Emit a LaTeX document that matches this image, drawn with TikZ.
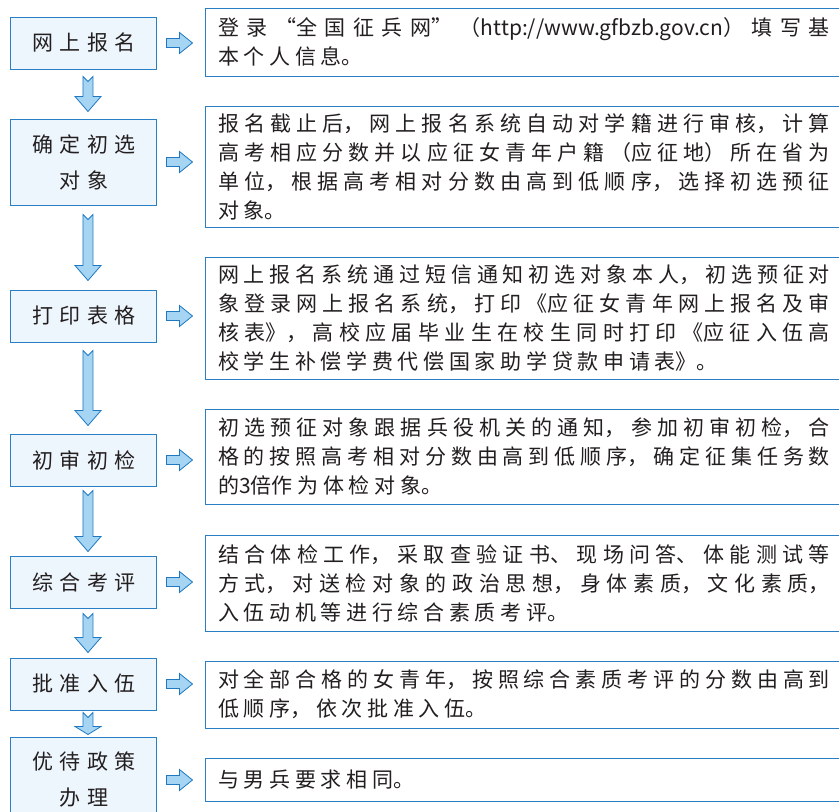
\documentclass[tikz,border=0pt]{standalone}
\usepackage{fontspec}
\setmainfont{Noto Sans CJK SC}
\usepackage{xcolor}
\usepackage{tikz}
\usetikzlibrary{positioning, calc}
\XeTeXlinebreaklocale "zh"
\setlength{\parindent}{0pt}
\definecolor{boxline}{HTML}{2A7FC4}
\definecolor{boxfill}{HTML}{EEF6FD}
\definecolor{arrowfill}{HTML}{A5D5F3}
\definecolor{arrowline}{HTML}{1F78C1}
\definecolor{txt}{HTML}{231F20}
\tikzstyle{stage} = [rectangle, draw=boxline, fill=boxfill, line width=1pt, minimum width=146pt, minimum height=52pt, text width=120pt, align=center, text=txt, font={\fontsize{21pt}{36pt}\selectfont\XeTeXlinebreakskip=6.3pt\relax}]
\tikzstyle{detail} = [rectangle, draw=boxline, fill=white, line width=1pt, inner xsep=13pt, inner ysep=6pt, text width=612pt, align=justify, text=txt, font={\fontsize{21pt}{29pt}\selectfont\XeTeXlinebreakskip=4.7pt plus 3pt\relax}]
\tikzstyle{blockarrow} = [draw=arrowline, fill=arrowfill, line width=0.8pt, line join=miter]
% block arrow from step #1 down to step #2, gap #3, head length #4
\newcommand\arrowdown[4]{%
  \draw [blockarrow] ([xshift=-1pt,yshift=-#3]#1.south) -- ([xshift=4pt,yshift=-#3-5pt]#1.south) -- ([xshift=9pt,yshift=-#3]#1.south)
    -- ([xshift=9pt,yshift=#3+#4]#2.north) -- ([xshift=17pt,yshift=#3+#4]#2.north) -- ([xshift=4pt,yshift=#3]#2.north)
    -- ([xshift=-9pt,yshift=#3+#4]#2.north) -- ([xshift=-1pt,yshift=#3+#4]#2.north) -- cycle;}
% block arrow from step #1 to its text box #2
\newcommand\arrowright[2]{%
  \draw [blockarrow] ([xshift=9pt,yshift=4.5pt]#1.east) -- ($(#2.west |- #1.east)+(-25pt,4.5pt)$) -- ($(#2.west |- #1.east)+(-25pt,10.5pt)$)
    -- ($(#2.west |- #1.east)+(-12pt,0)$) -- ($(#2.west |- #1.east)+(-25pt,-10.5pt)$) -- ($(#2.west |- #1.east)+(-25pt,-4.5pt)$)
    -- ([xshift=9pt,yshift=-4.5pt]#1.east) -- cycle;}

\begin{document}
\begin{tikzpicture}
\useasboundingbox (-84pt,43pt) rectangle (755pt,-769pt);
\clip (-84pt,43pt) rectangle (755pt,-769pt);
%----------------------------------------------------------------------------
% Placement of the steps
\node (onlineReg) [stage] {网上报名};
\node (pickTargets) [stage, minimum height=86pt, below = 49pt of onlineReg] {确定初选\\对象};
\node (printForms) [stage, below = 84pt of pickTargets] {打印表格};
\node (firstCheck) [stage, below = 91pt of printForms] {初审初检};
\node (overallEval) [stage, below = 69pt of firstCheck] {综合考评};
\node (approveEnlist) [stage, below = 49pt of overallEval] {批准入伍};
\node (benefits) [stage, minimum height=86pt, below = 26pt of approveEnlist] {优待政策\\办理};

%----------------------------------------------------------------------------
% Text boxes on the right
\node (regInfo) [detail, minimum height=68pt, right = 47pt of onlineReg, yshift=1pt] {登录“全国征兵网”（\mbox{http://www.gfbzb.gov.cn}）填写基\linebreak 本个人信息。};
\node (pickInfo) [detail, minimum height=121pt, right = 47pt of pickTargets, yshift=-4.5pt] {报名截止后，网上报名系统自动对学籍进行审核，计算高考相应分数并以应征女青年户籍（应征地）所在省为单位，根据高考相对分数由高到低顺序，选择初选预征对象。};
\node (printInfo) [detail, minimum height=122pt, right = 47pt of printForms, yshift=-2pt] {网上报名系统通过短信通知初选对象本人，初选预征对象登录网上报名系统，打印《应征女青年网上报名及审核表》，高校应届毕业生在校生同时打印《应征入伍高校学生补偿学费代偿国家助学贷款申请表》。};
\node (checkInfo) [detail, minimum height=95pt, right = 47pt of firstCheck, yshift=3.5pt] {初选预征对象跟据兵役机关的通知，参加初审初检，合格的按照高考相对分数由高到低顺序，确定征集任务数\linebreak\mbox{的3倍}作为体检对象。};
\node (evalInfo) [detail, minimum height=96pt, right = 47pt of overallEval, yshift=-1pt] {结合体检工作，采取查验证书、现场问答、体能测试等方式，对送检对象的政治思想，身体素质，文化素质，\linebreak 入伍动机等进行综合素质考评。};
\node (enlistInfo) [detail, minimum height=67pt, right = 47pt of approveEnlist, yshift=-10.5pt] {对全部合格的女青年，按照综合素质考评的分数由高到低顺序，依次批准入伍。};
\node (benefitInfo) [detail, minimum height=43pt, right = 47pt of benefits] {与男兵要求相同。};

%----------------------------------------------------------------------------
% Drawing of arrows
\arrowdown{onlineReg}{pickTargets}{7pt}{15pt}
\arrowdown{pickTargets}{printForms}{9pt}{15pt}
\arrowdown{printForms}{firstCheck}{8pt}{15pt}
\arrowdown{firstCheck}{overallEval}{4pt}{15pt}
\arrowdown{overallEval}{approveEnlist}{5pt}{15pt}
\arrowdown{approveEnlist}{benefits}{2pt}{8pt}

\arrowright{onlineReg}{regInfo}
\arrowright{pickTargets}{pickInfo}
\arrowright{printForms}{printInfo}
\arrowright{firstCheck}{checkInfo}
\arrowright{overallEval}{evalInfo}
\arrowright{approveEnlist}{enlistInfo}
\arrowright{benefits}{benefitInfo}

\end{tikzpicture}
\end{document}
